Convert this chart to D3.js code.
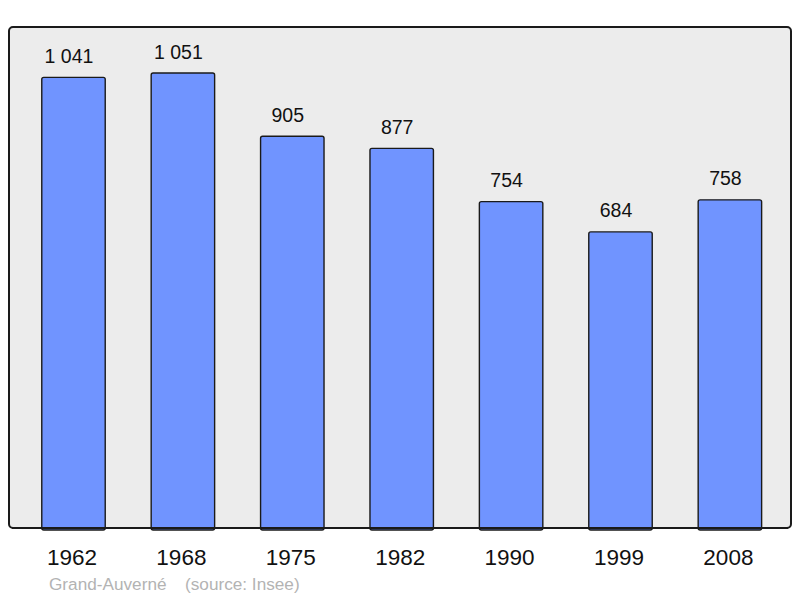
<!DOCTYPE html>
<html>
<head>
<meta charset="utf-8">
<script src="https://cdn.jsdelivr.net/npm/d3@7"></script>
<style>
html,body{margin:0;padding:0;background:#fff;}
svg{display:block;font-family:"Liberation Sans",Arial,sans-serif;}
</style>
</head>
<body>
<svg id="chart" width="800" height="598"></svg>
<script>
const years = ["1962","1968","1975","1982","1990","1999","2008"];
const population = [1041,1051,905,877,754,684,758];
const valueLabels = ["1 041","1 051","905","877","754","684","758"];
const commune = "Grand-Auverné";
const sourceText = "(source: Insee)";

const svg = d3.select("#chart");
const panel = {x0: 9, y0: 27, x1: 791, y1: 528};

svg.append("rect")
  .attr("x", panel.x0).attr("y", panel.y0)
  .attr("width", panel.x1 - panel.x0).attr("height", panel.y1 - panel.y0)
  .attr("rx", 4).attr("ry", 4)
  .attr("fill", "#ececec").attr("stroke", "#1a1a1a").attr("stroke-width", 2);

const x = d3.scaleBand().domain(years).range([18.8, 784.6]).paddingInner(0.42).paddingOuter(0.21);
const y = d3.scaleLinear().domain([0, 1051]).range([528, 73]);

const data = years.map((yr, i) => ({year: yr, value: population[i], label: valueLabels[i]}));

svg.selectAll("rect.bar").data(data).enter().append("rect")
  .attr("class", "bar")
  .attr("x", d => x(d.year)).attr("y", d => y(d.value))
  .attr("width", x.bandwidth()).attr("height", d => y(0) - y(d.value) + 2)
  .attr("rx", 2).attr("ry", 2)
  .attr("fill", "#7094ff").attr("stroke", "#1a1a1a").attr("stroke-width", 1.4);

svg.append("line")
  .attr("x1", panel.x0 + 3).attr("x2", panel.x1 - 3)
  .attr("y1", panel.y1).attr("y2", panel.y1)
  .attr("stroke", "#1a1a1a").attr("stroke-width", 2);

svg.selectAll("text.val").data(data).enter().append("text")
  .attr("class", "val")
  .attr("x", d => x(d.year) + x.bandwidth() / 2 - 4.5)
  .attr("y", d => y(d.value) - 14.5)
  .attr("text-anchor", "middle")
  .attr("font-size", 19.5).attr("fill", "#111")
  .text(d => d.label);

svg.selectAll("text.yr").data(data).enter().append("text")
  .attr("class", "yr")
  .attr("x", d => x(d.year) + x.bandwidth() / 2 - 1.5)
  .attr("y", 565)
  .attr("text-anchor", "middle")
  .attr("font-size", 22.5).attr("fill", "#111")
  .text(d => d.year);

svg.append("text").attr("x", 49).attr("y", 590)
  .attr("font-size", 17.2).attr("fill", "#b3b3b3").text(commune);
svg.append("text").attr("x", 185).attr("y", 590)
  .attr("font-size", 17.2).attr("fill", "#b3b3b3").text(sourceText);
</script>
</body>
</html>
